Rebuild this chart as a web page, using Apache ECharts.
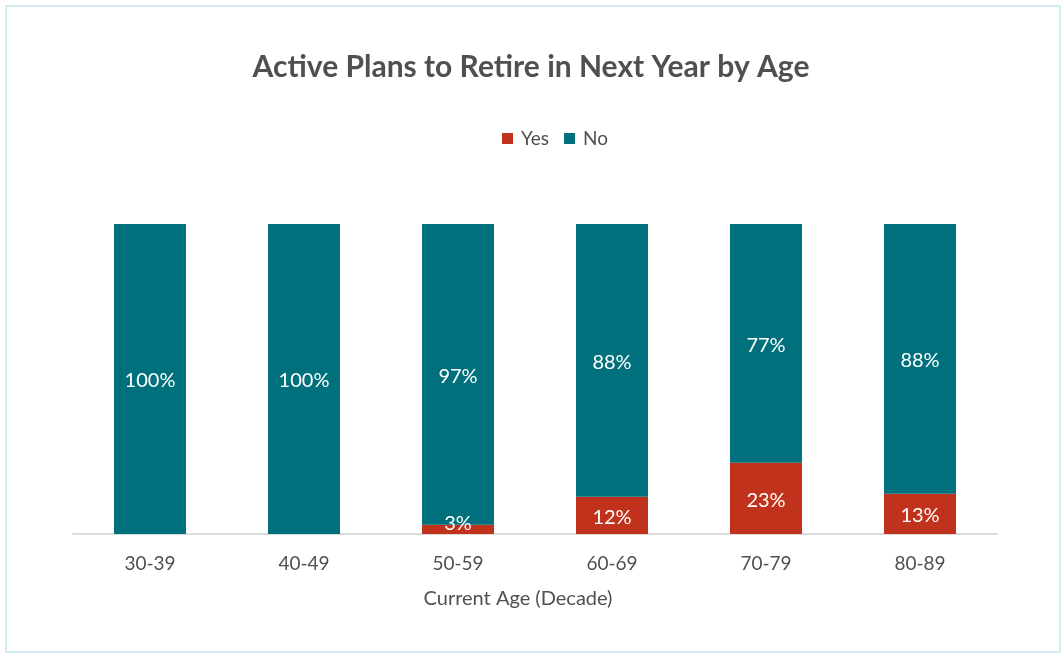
<!DOCTYPE html>
<html><head><meta charset="utf-8">
<script src="https://cdn.jsdelivr.net/npm/echarts@6/dist/echarts.min.js"></script>
<style>html,body{margin:0;padding:0;background:#fff}#c{width:1062px;height:654px}</style>
</head><body><div id="c"></div>
<script>
const categories = ['30-39','40-49','50-59','60-69','70-79','80-89'];
const yesValues = [0, 0, 3, 12, 23, 13];
const noValues = [100, 100, 97, 88, 77, 88];
const chart = echarts.init(document.getElementById('c'));
const font = 'Lato, "Open Sans", sans-serif';
const lbl = {show:true, position:'inside', color:'#fff', fontSize:20, fontFamily:font, offset:[0,2],
  formatter: p => p.value > 0 ? p.value + '%' : ''};
const toItems = arr => arr.map(v => v > 0 && v < 6 ? {value:v, label:{offset:[0,-6]}} : v);
chart.setOption({
  animation:false,
  graphic:[{type:'rect', shape:{x:6,y:6,width:1054,height:646}, style:{fill:'none', stroke:'#d3eef1', lineWidth:2}}],
  title:{text:'Active Plans to Retire in Next Year by Age', left:'center', top:47,
    textStyle:{fontFamily:font, fontSize:30, fontWeight:'bold', color:'#505050'}},
  legend:{top:124, left:497, itemWidth:11, itemHeight:11, itemGap:15, icon:'rect',
    textStyle:{fontFamily:font, fontSize:19, color:'#505050', padding:[0,0,0,3]}},
  grid:{left:73, right:65, top:224, bottom:120, containLabel:false},
  xAxis:{type:'category', data:categories,
    axisLine:{lineStyle:{color:'#dcdcdc', width:2}}, axisTick:{show:false},
    axisLabel:{fontFamily:font, fontSize:19, color:'#505050', margin:20},
    name:'Current Age (Decade)', nameLocation:'middle', nameGap:55,
    nameTextStyle:{fontFamily:font, fontSize:20, color:'#505050', padding:[0,34,0,0]}},
  yAxis:{type:'value', min:0, max:100, show:false},
  series:[
    {name:'Yes', type:'bar', stack:'a', data:toItems(yesValues), barWidth:72, itemStyle:{color:'#c0321c'}, label:lbl},
    {name:'No', type:'bar', stack:'a', data:toItems(noValues), barWidth:72, itemStyle:{color:'#00717c'}, label:lbl}
  ]
});
</script></body></html>
